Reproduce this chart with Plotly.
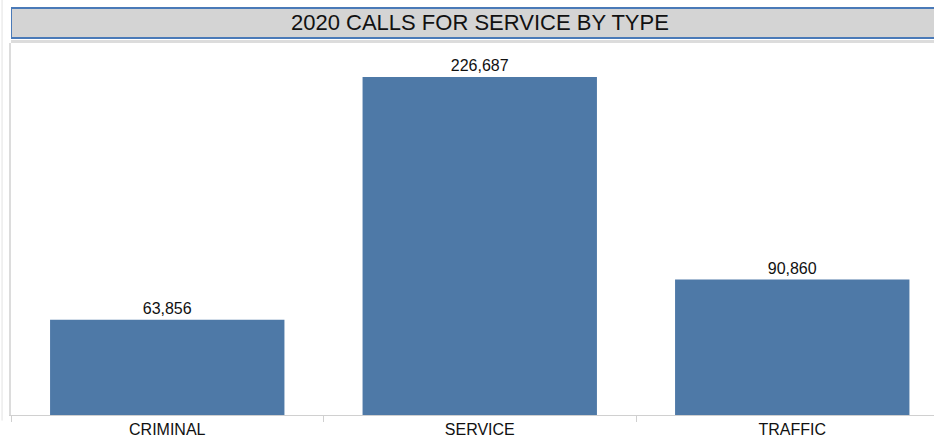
import plotly.graph_objects as go

categories = ["CRIMINAL", "SERVICE", "TRAFFIC"]
calls = [63856, 226687, 90860]
title_text = "2020 CALLS FOR SERVICE BY TYPE"

FONT = "Liberation Sans, Arial, sans-serif"

fig = go.Figure()
fig.add_trace(
    go.Bar(
        x=categories,
        y=calls,
        width=0.75,
        marker=dict(color="#4e79a7", line=dict(width=0)),
        text=[f"{v:,}" for v in calls],
        textposition="outside",
        textfont=dict(family=FONT, size=16, color="#111111"),
        cliponaxis=False,
        hoverinfo="skip",
    )
)

# title bar with its border and the light band under it
fig.add_shape(type="rect", xref="x", yref="paper", x0=-0.5, x1=2.55, y0=1.0134, y1=1.094,
              fillcolor="#d4d4d4", line=dict(color="#4a7ab8", width=2), layer="above")
fig.add_shape(type="rect", xref="x", yref="paper", x0=-0.5, x1=2.55, y0=1.0, y1=1.008,
              fillcolor="#dcdcdc", line=dict(width=0), layer="above")
fig.add_shape(type="line", xref="paper", yref="paper", x0=-0.0097, x1=-0.0097, y0=-0.015, y1=1.12,
              line=dict(color="#e2e2e2", width=1))
fig.add_annotation(x=1, xref="x", y=1.054, yref="paper", text=title_text, showarrow=False,
                   font=dict(family=FONT, size=22, color="#111111"), yanchor="middle")

fig.update_layout(
    width=934,
    height=438,
    margin=dict(l=11, r=0, t=43, b=23),
    plot_bgcolor="white",
    paper_bgcolor="white",
    showlegend=False,
    font=dict(family=FONT, color="#111111"),
)
fig.update_xaxes(
    range=[-0.5, 2.4536],
    showline=True,
    linecolor="#d0d0d0",
    linewidth=1,
    ticks="outside",
    tickson="boundaries",
    ticklen=6,
    tickcolor="#d0d0d0",
    tickfont=dict(size=16, color="#111111"),
    showgrid=False,
    fixedrange=True,
)
fig.update_yaxes(
    range=[0, 249500],
    showline=True,
    linecolor="#dcdcdc",
    linewidth=2,
    showticklabels=False,
    ticks="",
    showgrid=False,
    zeroline=False,
    fixedrange=True,
)

fig.write_html(
    "out.html",
    config={"displayModeBar": False},
    post_script="document.body.style.margin='0';",
)
